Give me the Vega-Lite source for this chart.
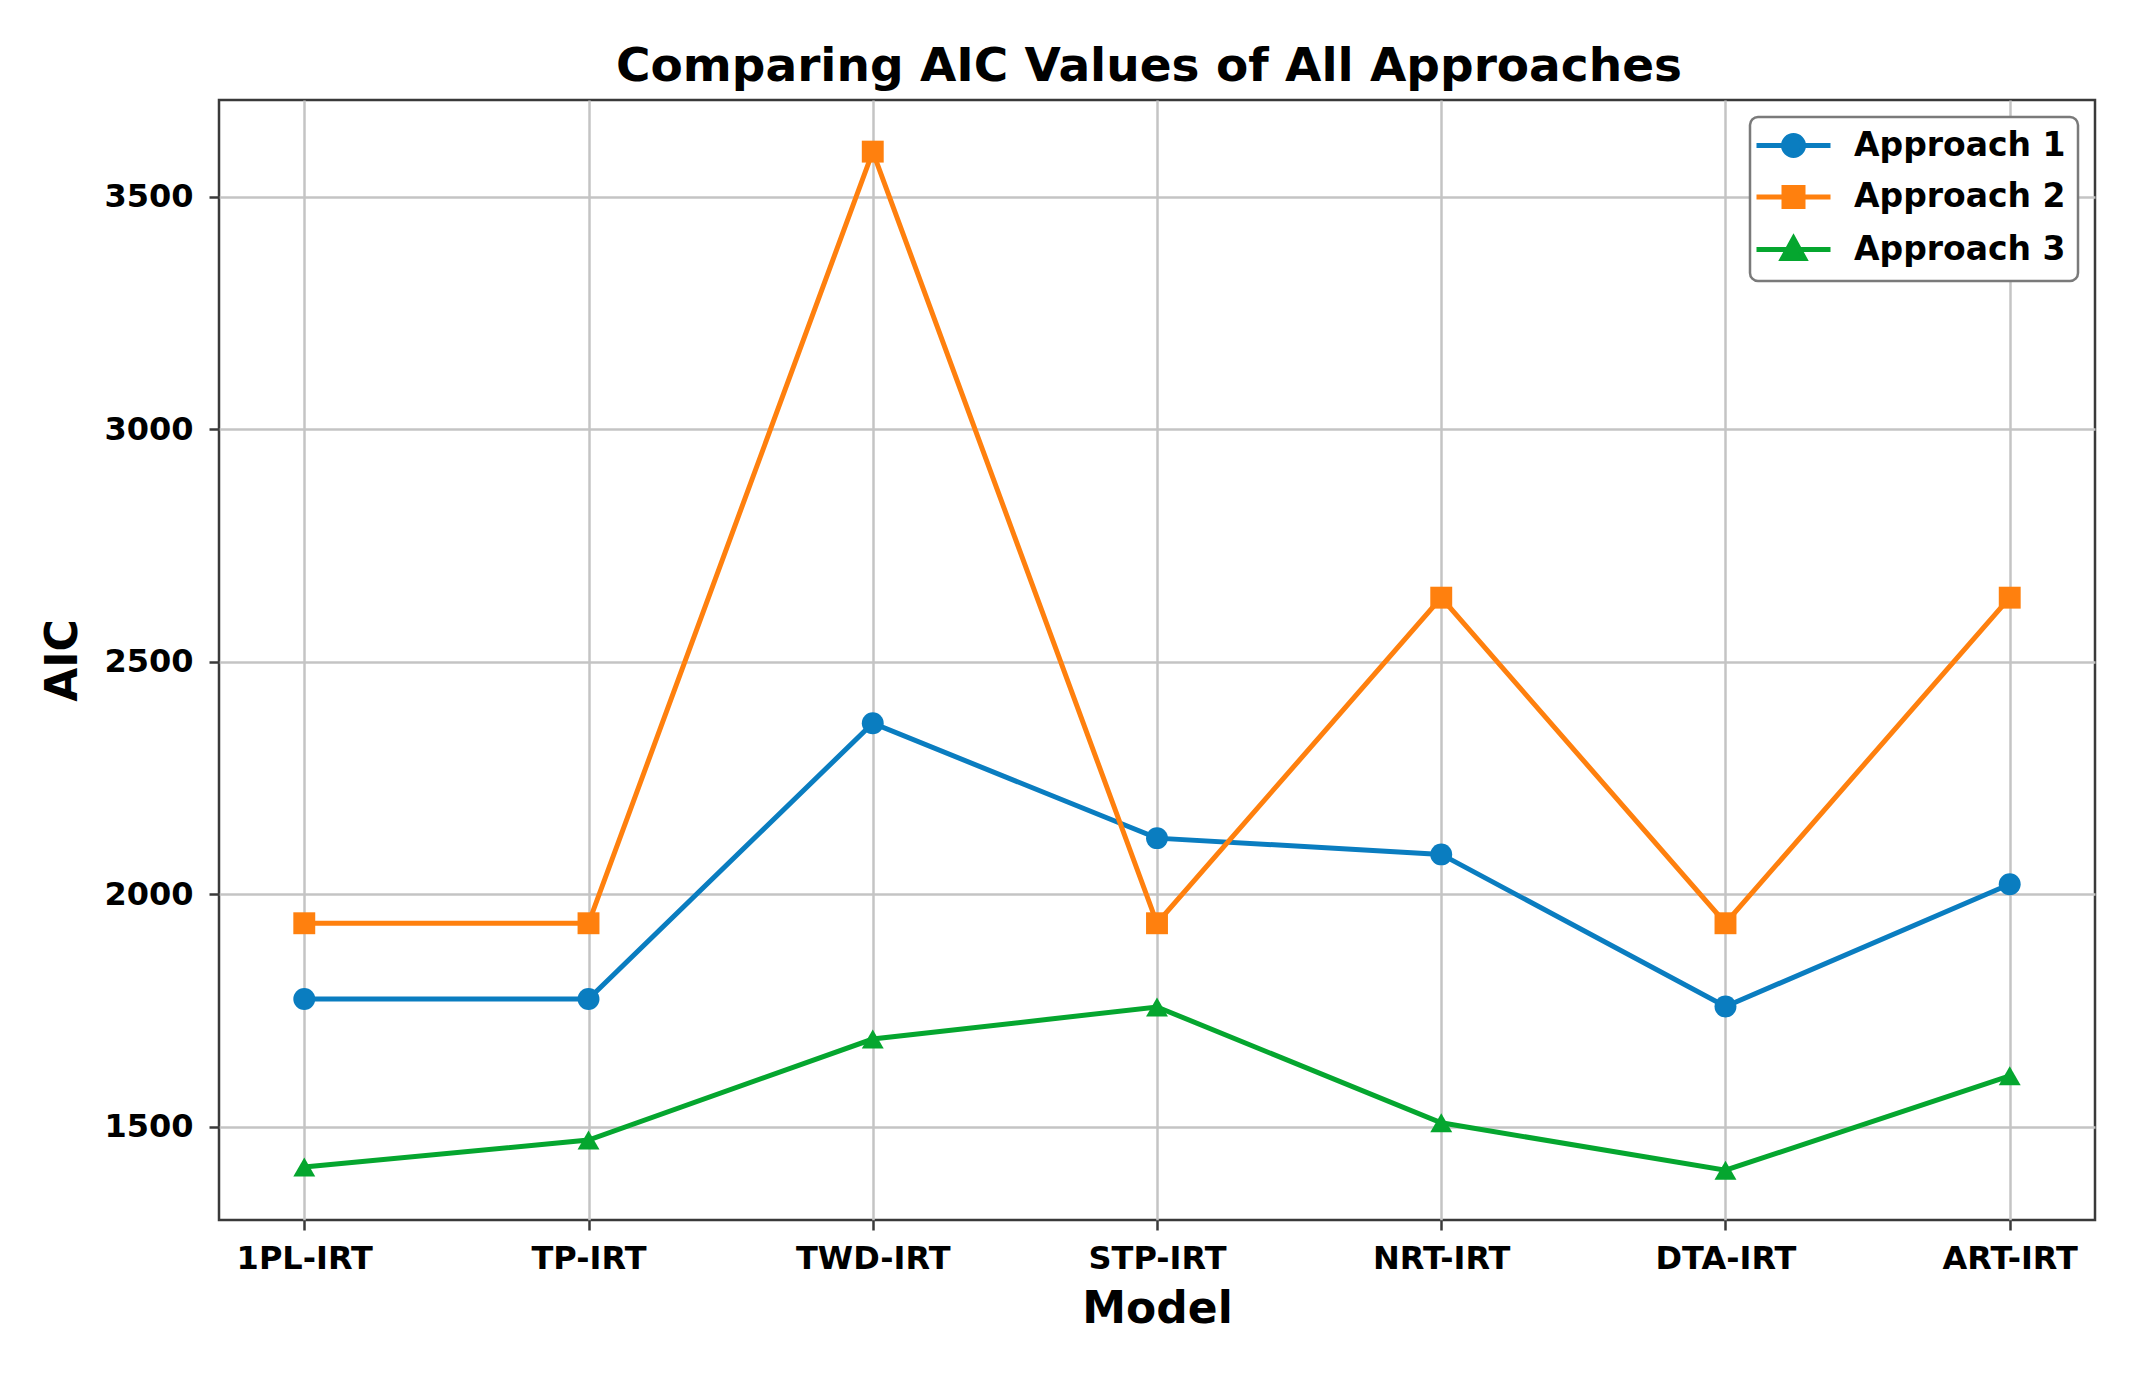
{
  "$schema": "https://vega.github.io/schema/vega-lite/v6.json",
  "autosize": {"type": "none"},
  "width": 1876,
  "height": 1120,
  "padding": {"left": 219, "top": 100, "right": 49, "bottom": 155},
  "background": "white",
  "title": {
    "text": "Comparing AIC Values of All Approaches",
    "font": "DejaVu Sans",
    "fontSize": 47,
    "fontWeight": "bold",
    "color": "black",
    "anchor": "middle",
    "frame": "group",
    "baseline": "alphabetic",
    "offset": 19,
    "dy": 47,
    "dx": -8
  },
  "data": {
    "values": [
      {"model": "1PL-IRT", "approach": "Approach 1", "aic": 1775},
      {"model": "TP-IRT", "approach": "Approach 1", "aic": 1775},
      {"model": "TWD-IRT", "approach": "Approach 1", "aic": 2368},
      {"model": "STP-IRT", "approach": "Approach 1", "aic": 2121},
      {"model": "NRT-IRT", "approach": "Approach 1", "aic": 2086},
      {"model": "DTA-IRT", "approach": "Approach 1", "aic": 1759},
      {"model": "ART-IRT", "approach": "Approach 1", "aic": 2022},
      {"model": "1PL-IRT", "approach": "Approach 2", "aic": 1938},
      {"model": "TP-IRT", "approach": "Approach 2", "aic": 1938},
      {"model": "TWD-IRT", "approach": "Approach 2", "aic": 3597},
      {"model": "STP-IRT", "approach": "Approach 2", "aic": 1938},
      {"model": "NRT-IRT", "approach": "Approach 2", "aic": 2638},
      {"model": "DTA-IRT", "approach": "Approach 2", "aic": 1938},
      {"model": "ART-IRT", "approach": "Approach 2", "aic": 2638},
      {"model": "1PL-IRT", "approach": "Approach 3", "aic": 1414},
      {"model": "TP-IRT", "approach": "Approach 3", "aic": 1472},
      {"model": "TWD-IRT", "approach": "Approach 3", "aic": 1689},
      {"model": "STP-IRT", "approach": "Approach 3", "aic": 1758},
      {"model": "NRT-IRT", "approach": "Approach 3", "aic": 1509},
      {"model": "DTA-IRT", "approach": "Approach 3", "aic": 1407},
      {"model": "ART-IRT", "approach": "Approach 3", "aic": 1610}
    ]
  },
  "encoding": {
    "x": {
      "field": "model",
      "type": "ordinal",
      "sort": ["1PL-IRT", "TP-IRT", "TWD-IRT", "STP-IRT", "NRT-IRT", "DTA-IRT", "ART-IRT"],
      "scale": {"type": "point", "padding": 0.3},
      "axis": {
        "title": "Model",
        "labelAngle": 0,
        "labelBaseline": "alphabetic",
        "labelPadding": 38,
        "titleX": 938,
        "titleY": 102,
        "titleBaseline": "alphabetic",
        "titleAlign": "center"
      }
    },
    "y": {
      "field": "aic",
      "type": "quantitative",
      "scale": {"domain": [1300, 3708], "nice": false, "zero": false},
      "axis": {
        "title": "AIC",
        "values": [1500, 2000, 2500, 3000, 3500],
        "format": "d",
        "labelPadding": 16,
        "titleX": -143,
        "titleY": 560,
        "titleAngle": 270,
        "titleAlign": "center",
        "titleBaseline": "alphabetic"
      }
    },
    "color": {
      "field": "approach",
      "type": "nominal",
      "scale": {
        "domain": ["Approach 1", "Approach 2", "Approach 3"],
        "range": ["#0a7dc0", "#ff800e", "#05a62f"]
      },
      "legend": {
        "title": null,
        "orient": "top-right",
        "offset": 17,
        "fillColor": "white",
        "strokeColor": "#7a7a7a",
        "cornerRadius": 8,
        "padding": 12,
        "rowPadding": 11.5,
        "labelFont": "DejaVu Sans",
        "labelFontSize": 33,
        "labelFontWeight": "bold",
        "labelColor": "black",
        "labelLimit": 500,
        "symbolSize": 400,
        "symbolOffset": 15,
        "labelOffset": 44,
        "symbolStrokeWidth": 5,
        "encode": {
          "legend": {
            "update": {"strokeWidth": {"value": 2.5}}
          },
          "symbols": {
            "update": {
              "shape": {"signal": "datum.value === 'Approach 1' ? 'M-3.7,0L3.7,0M-1,0A1,1,0,1,1,1,0A1,1,0,1,1,-1,0Z' : datum.value === 'Approach 2' ? 'M-3.7,0L3.7,0M-0.95,-0.95L0.95,-0.95L0.95,0.95L-0.95,0.95Z' : 'M-3.7,0L3.7,0M0,-1.1L1.1,0.9L-1.1,0.9Z'"},
              "fill": {"scale": "color", "field": "value"},
              "stroke": {"scale": "color", "field": "value"},
              "fillOpacity": {"value": 1},
              "opacity": {"value": 1}
            }
          }
        }
      }
    }
  },
  "layer": [
    {
      "mark": {"type": "line", "strokeWidth": 5}
    },
    {
      "mark": {"type": "point", "filled": true, "opacity": 1, "size": 480},
      "encoding": {
        "shape": {
          "condition": [
            {"test": "datum.approach === 'Approach 1'", "value": "circle"},
            {"test": "datum.approach === 'Approach 2'", "value": "square"}
          ],
          "value": "triangle-up"
        }
      }
    }
  ],
  "config": {
    "view": {"stroke": "#3a3a3a", "strokeWidth": 2.5},
    "axis": {
      "grid": true,
      "gridColor": "#c4c4c4",
      "gridWidth": 2.5,
      "domain": false,
      "ticks": true,
      "tickColor": "#3a3a3a",
      "tickWidth": 2.5,
      "tickSize": 10,
      "labelFont": "DejaVu Sans",
      "labelFontSize": 32,
      "labelFontWeight": "bold",
      "labelColor": "black",
      "titleFont": "DejaVu Sans",
      "titleFontSize": 44,
      "titleFontWeight": "bold",
      "titleColor": "black"
    }
  }
}
